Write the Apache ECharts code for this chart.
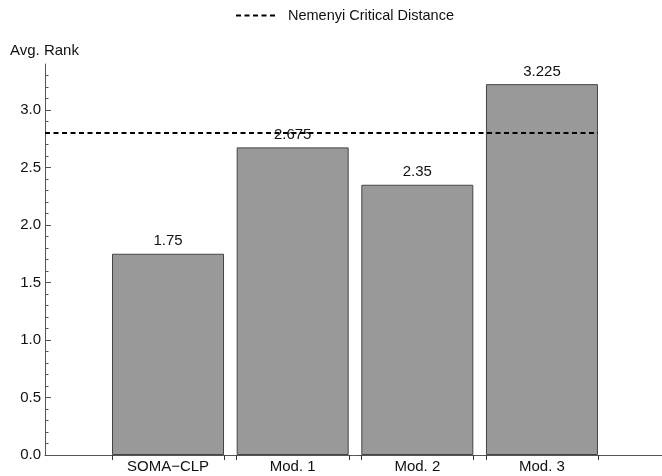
<!DOCTYPE html>
<html>
<head>
<meta charset="utf-8">
<script src="https://cdn.jsdelivr.net/npm/echarts@6/dist/echarts.min.js"></script>
<style>
  html, body { margin: 0; padding: 0; background: #fff; }
  #chart { width: 662px; height: 476px; }
</style>
</head>
<body>
<div id="chart"></div>
<script>
// 数据
var categories = ['SOMA\u2212CLP', 'Mod. 1', 'Mod. 2', 'Mod. 3'];
var positions = [1, 2, 3, 4];
var avgRank = [1.75, 2.675, 2.35, 3.225];
var criticalDistance = 2.8;
// 刻度
var yMajorTicks = [0, 0.5, 1.0, 1.5, 2.0, 2.5, 3.0];
var yMinorTicks = [0, 0.1, 0.2, 0.3, 0.4, 0.5, 0.6, 0.7, 0.8, 0.9, 1.0, 1.1, 1.2, 1.3, 1.4, 1.5,
  1.6, 1.7, 1.8, 1.9, 2.0, 2.1, 2.2, 2.3, 2.4, 2.5, 2.6, 2.7, 2.8, 2.9, 3.0, 3.1, 3.2, 3.3];
var xBarEdges = [0.55, 1.45, 1.55, 2.45, 2.55, 3.45, 3.55, 4.45];

var xMin = 0.013, xMax = 4.963;
var font = 'Liberation Sans, Arial, sans-serif';
var fs = 15;

var chart = echarts.init(document.getElementById('chart'));

var barData = positions.map(function (p, i) { return [p, avgRank[i]]; });

chart.setOption({
  animation: false,
  textStyle: { fontFamily: font },
  title: {
    text: 'Avg. Rank',
    left: 5, top: 38,
    textStyle: { fontSize: fs, fontWeight: 'normal', color: '#111', fontFamily: font }
  },
  legend: {
    left: 230, top: 3,
    itemWidth: 40, itemHeight: 14, itemGap: 8,
    itemStyle: { opacity: 0 },
    textStyle: { fontSize: 14.5, color: '#111', fontFamily: font, padding: [0, 0, 0, 7] },
    data: ['Nemenyi Critical Distance']
  },
  grid: { left: 45, right: 0, top: 64, bottom: 21 },
  xAxis: {
    type: 'value', min: xMin, max: xMax,
    splitLine: { show: false },
    axisLine: { onZero: false, lineStyle: { color: '#555', width: 1 } },
    axisTick: { show: true, customValues: xBarEdges, length: 5, inside: false, lineStyle: { color: '#333' } },
    axisLabel: {
      customValues: positions, margin: 4,
      fontSize: fs, color: '#111', fontFamily: font,
      formatter: function (v) { return categories[Math.round(v) - 1] || ''; }
    }
  },
  yAxis: [{
    type: 'value', min: 0, max: 3.4,
    splitLine: { show: false },
    axisLine: { show: true, onZero: false, lineStyle: { color: '#555', width: 1 } },
    axisTick: { show: true, inside: true, length: 6, customValues: yMajorTicks, lineStyle: { color: '#555' } },
    axisLabel: {
      customValues: yMajorTicks, margin: 4,
      fontSize: fs, color: '#111', fontFamily: font,
      formatter: function (v) { return v.toFixed(1); }
    }
  }, {
    type: 'value', min: 0, max: 3.4, position: 'left',
    splitLine: { show: false },
    axisLine: { show: false, onZero: false },
    axisTick: { show: true, inside: true, length: 3.5, customValues: yMinorTicks, lineStyle: { color: '#555' } },
    axisLabel: { show: false }
  }],
  series: [{
    type: 'bar',
    data: barData,
    barWidth: 112,
    itemStyle: { color: '#999999', borderColor: '#444', borderWidth: 1 },
    label: {
      show: true, position: 'top', distance: 5,
      fontSize: fs, color: '#111', fontFamily: font,
      formatter: function (p) { return String(p.value[1]); }
    },
    z: 2
  }, {
    name: 'Nemenyi Critical Distance',
    type: 'line',
    data: [[xMin, criticalDistance], [4.45, criticalDistance]],
    symbol: 'none',
    lineStyle: { color: '#000', width: 2, type: [5, 3.5] },
    itemStyle: { color: '#000' },
    z: 3
  }]
});
</script>
</body>
</html>
